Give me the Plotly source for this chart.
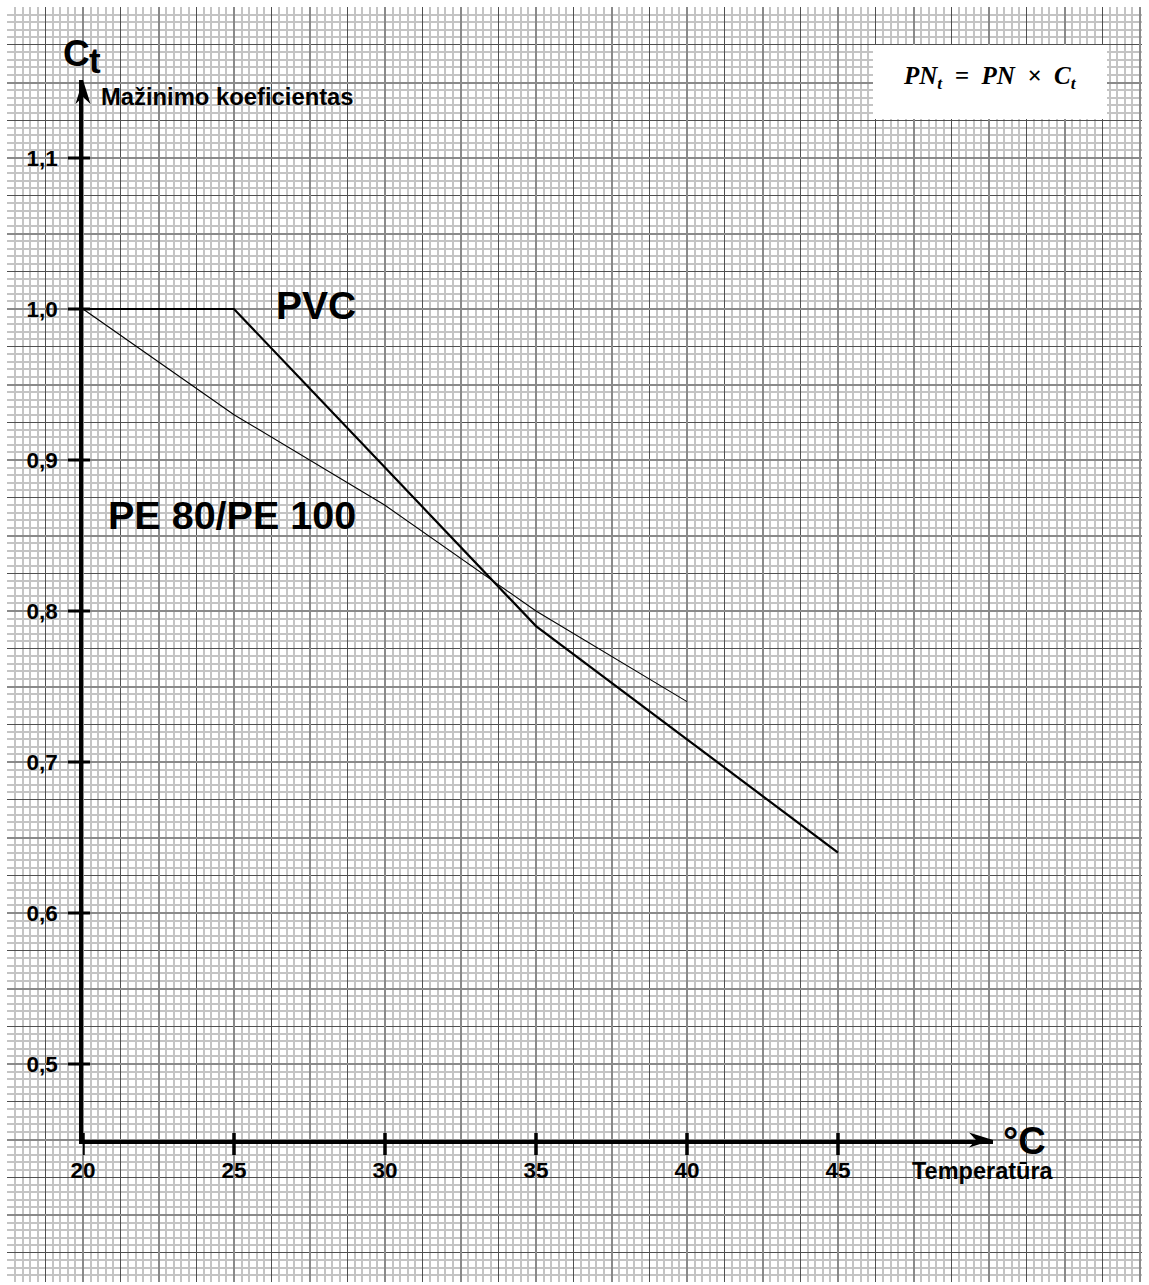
import plotly.graph_objects as go

# ---------------- data ----------------
temp_pvc = [20, 25, 30, 35, 40, 45]
ct_pvc = [1.0, 1.0, 0.895, 0.79, 0.715, 0.64]

temp_pe = [20, 25, 30, 35, 40]
ct_pe = [1.0, 0.93, 0.87, 0.80, 0.74]

x_tickvals = [20, 25, 30, 35, 40, 45]
x_ticktext = ["20", "25", "30", "35", "40", "45"]
y_tickvals = [0.5, 0.6, 0.7, 0.8, 0.9, 1.0, 1.1]
y_ticktext = ["0,5", "0,6", "0,7", "0,8", "0,9", "1,0", "1,1"]

# ---------------- layout geometry (pixels) ----------------
W, H = 1149, 1285
ML, MR, MT, MB = 7, 7, 7, 3
PW, PH = W - ML - MR, H - MT - MB
X20_PX, PX_PER_DEG = 83, 30.2      # pixel of 20 °C, px per °C
Y10_PX, PX_PER_UNIT = 309, 1510    # pixel of Ct = 1.0, px per Ct unit
AX_RIGHT_PX, AX_BOTTOM_PX, AX_TOP_PX = 993, 1140, 80


def x_at(px):
    return 20 + (px - X20_PX) / PX_PER_DEG


def y_at(py):
    return 1.0 - (py - Y10_PX) / PX_PER_UNIT


def fx(px):
    return (px - ML) / PW


def fy(py):
    return (H - MB - py) / PH


XR = [x_at(ML), x_at(W - MR)]
YR = [y_at(H - MB), y_at(MT)]
X2R = [20, x_at(AX_RIGHT_PX)]
Y2R = [y_at(AX_BOTTOM_PX), y_at(AX_TOP_PX)]
X2D = [fx(X20_PX), fx(AX_RIGHT_PX)]
Y2D = [fy(AX_BOTTOM_PX), fy(AX_TOP_PX)]

FONT = "Liberation Sans, Arial, Helvetica, sans-serif"

fig = go.Figure()

# data traces on the drawing axes
fig.add_trace(go.Scatter(x=temp_pvc, y=ct_pvc, mode="lines", xaxis="x2", yaxis="y2",
                         line=dict(color="black", width=2.2), showlegend=False, hoverinfo="skip"))
fig.add_trace(go.Scatter(x=temp_pe, y=ct_pe, mode="lines", xaxis="x2", yaxis="y2",
                         line=dict(color="black", width=1.1), showlegend=False, hoverinfo="skip"))
# placeholders so the paper-grid subplots exist
fig.add_trace(go.Scatter(x=[None], y=[None], xaxis="x", yaxis="y", showlegend=False, hoverinfo="skip"))
fig.add_trace(go.Scatter(x=[None], y=[None], xaxis="x3", yaxis="y3", showlegend=False, hoverinfo="skip"))

paper_grid = dict(showline=False, zeroline=False, showticklabels=False, ticks="", fixedrange=True)
tickfont = dict(family=FONT, size=22.5, color="black", weight="bold")

fig.update_layout(
    width=W, height=H,
    margin=dict(l=ML, r=MR, t=MT, b=MB, pad=0, autoexpand=False),
    paper_bgcolor="white", plot_bgcolor="rgba(0,0,0,0)",
    showlegend=False,
    # graph paper: dark + fine lines
    xaxis=dict(domain=[0, 1], range=XR, anchor="y", showgrid=True,
               tick0=18.75, dtick=2.5, gridcolor="#505050", gridwidth=1.4,
               minor=dict(tick0=18.75, dtick=0.25, showgrid=True, gridcolor="#c4c4c4", gridwidth=1.5),
               **paper_grid),
    yaxis=dict(domain=[0, 1], range=YR, anchor="x", showgrid=True,
               tick0=0.975, dtick=0.05, gridcolor="#505050", gridwidth=1.4,
               minor=dict(tick0=0.975, dtick=0.005, showgrid=True, gridcolor="#c4c4c4", gridwidth=1.5),
               **paper_grid),
    # graph paper: medium lines
    xaxis3=dict(overlaying="x", range=XR, anchor="y3", showgrid=True,
                tick0=20, dtick=2.5, gridcolor="#8a8a8a", gridwidth=1.9, **paper_grid),
    yaxis3=dict(overlaying="y", range=YR, anchor="x3", showgrid=True,
                tick0=1.0, dtick=0.05, gridcolor="#8a8a8a", gridwidth=1.9, **paper_grid),
    # drawing axes
    xaxis2=dict(domain=X2D, range=X2R, anchor="y2",
                showgrid=False, zeroline=False, showline=True, linecolor="black", linewidth=3.5,
                ticks="", tickvals=x_tickvals, ticktext=x_ticktext, ticklabelstandoff=7,
                tickfont=tickfont, fixedrange=True),
    yaxis2=dict(domain=Y2D, range=Y2R, anchor="x2",
                showgrid=False, zeroline=False, showline=True, linecolor="black", linewidth=3.5,
                ticks="", tickvals=y_tickvals, ticktext=y_ticktext, ticklabelstandoff=17,
                tickfont=tickfont, fixedrange=True),
)

shapes = []
# crossing tick marks (15 px outside, 7 px inside)
for v in y_tickvals:
    shapes.append(dict(type="line", xref="paper", yref="y2", xsizemode="pixel", xanchor=X2D[0],
                       x0=-15, x1=7, y0=v, y1=v, line=dict(color="black", width=3)))
for v in x_tickvals:
    shapes.append(dict(type="line", xref="x2", yref="paper", ysizemode="pixel", yanchor=Y2D[0],
                       y0=-15, y1=7, x0=v, x1=v, line=dict(color="black", width=3.5)))
# arrow heads
shapes.append(dict(type="path", xref="paper", yref="paper", xsizemode="pixel", ysizemode="pixel",
                   xanchor=X2D[1], yanchor=Y2D[0],
                   path="M0,0 L-24,7.5 L-17,0 L-24,-7.5 Z", fillcolor="black", line=dict(width=0)))
shapes.append(dict(type="path", xref="paper", yref="paper", xsizemode="pixel", ysizemode="pixel",
                   xanchor=X2D[0], yanchor=Y2D[1],
                   path="M0,0 L-7.5,-24 L0,-17 L7.5,-24 Z", fillcolor="black", line=dict(width=0)))
# white box behind the formula
shapes.append(dict(type="rect", xref="paper", yref="paper", x0=fx(873), x1=fx(1107),
                   y0=fy(119), y1=fy(45), fillcolor="white", line=dict(width=0), layer="above"))
fig.update_layout(shapes=shapes)


def label(text, px, py, size, xanchor="left", family=FONT):
    fig.add_annotation(text=text, xref="paper", yref="paper", x=fx(px), y=fy(py),
                       xanchor=xanchor, yanchor="middle", showarrow=False,
                       font=dict(family=family, size=size, color="black", weight="bold"))


label("C", 61, 53, 37)
label("t", 87, 60, 35)
label("Mažinimo koeficientas", 99, 96, 23.8)
label("PVC", 274, 305, 39)
label("PE 80/PE 100", 106, 515, 39.5)
label("°C", 1001, 1141, 38)
label("Temperatūra", 910, 1171, 23.5)
fig.add_annotation(text="<b><i>PN<sub>t</sub>  =  PN  ×  C<sub>t</sub></i></b>", xref="paper", yref="paper",
                   x=fx(990), y=fy(77), xanchor="center", yanchor="middle", showarrow=False,
                   font=dict(family="Liberation Serif, Times New Roman, serif", size=25, color="black"))

fig.write_html("out.html")
